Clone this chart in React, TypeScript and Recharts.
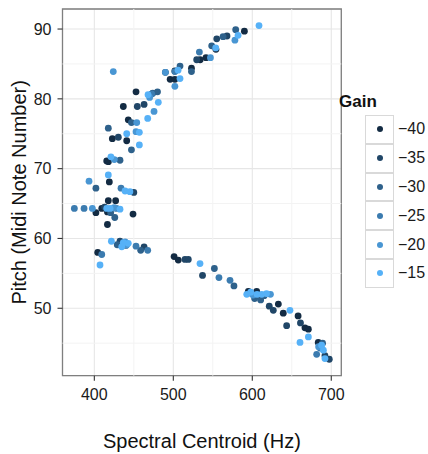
import { ScatterChart, Scatter, XAxis, YAxis, CartesianGrid, ReferenceLine, ReferenceArea } from "recharts";

// gain levels and their fill colours (ggplot default blue gradient)
const gainLevels = [-40, -35, -30, -25, -20, -15];
const gainColors = ["#132B43", "#204667", "#2E618B", "#3B7BAF", "#4996D3", "#56B1F7"];

// [spectral centroid Hz, pitch midi], grouped by gain
const gainM40 = [
  [590, 89.7], [554, 87.1], [541.4, 85.9], [523, 84.4], [534, 85.6], [496, 82.8], [502, 82.8], [502, 84],
  [452.8, 81], [436.7, 78.9], [443, 77], [422.8, 74.3], [441, 74], [415.7, 71.1], [417.8, 71], [419, 68.1],
  [417.7, 65.4], [427, 65.4], [409.4, 64.3], [402, 63.7], [416.6, 63.8], [449, 63.5], [416.6, 62], [404.3, 58],
  [501, 57.4], [506.3, 56.9], [597, 52.2], [605.6, 52.4], [595, 52.4], [633, 50.6], [639.2, 49.3], [658, 48.9],
  [666.7, 47.2], [671, 47], [683.5, 45.1],
];
const gainM35 = [
  [568, 89], [555, 88.6], [529.6, 85.6], [490, 83.8], [454.4, 78.9], [463, 79.2], [430.4, 74.5], [450, 66.6],
  [413, 64.5], [432.5, 59.6], [463, 58.8], [514.8, 57], [519, 57], [537, 54.7], [621.5, 50.3], [626.6, 49.7],
  [643.5, 47.5], [661, 47.9], [692, 43.2], [697.5, 42.7],
];
const gainM30 = [
  [579, 89.9], [563, 88.9], [548.6, 87.6], [523, 83.9], [508.5, 84.7], [480, 81], [474, 80.8], [447, 76.6],
  [417.7, 75.8], [447, 72.7], [432.5, 71.2], [402, 67.2], [420.7, 63.7], [425.9, 63], [429, 59.1], [440, 59],
  [458.7, 58.3], [552, 55.7], [576.8, 53.2], [603, 51.4], [610.6, 51.2], [615, 51.8], [689, 45],
];
const gainM25 = [
  [533, 86.7], [502, 83.9], [472.6, 80.7], [433.8, 67.2], [374.7, 64.3], [387, 64.3], [428, 64.3], [452.8, 58.9],
  [467.6, 58.3], [409.4, 57.7], [557.8, 54.4], [571.8, 54], [685.7, 44.3], [681.5, 43.4],
];
const gainM20 = [
  [578, 88.4], [547, 85.9], [490, 83.8], [502, 81.8], [424, 83.9], [470, 80.2], [475.6, 78.2], [453.7, 76.6],
  [452.8, 75.3], [425.3, 71.3], [393.3, 68.2], [397.5, 64.3], [425, 64.4], [441, 59.1], [439, 59.5], [601, 51.9],
  [623, 52], [684, 44.5],
];
const gainM15 = [
  [608.5, 90.5], [582, 89.1], [553.7, 87.3], [506, 84.1], [508.5, 82.9], [481, 79.5], [468, 80.6], [467.6, 77.2],
  [441, 75], [457, 75.2], [457, 73.4], [421, 71.7], [417.7, 69.1], [438.9, 66.8], [445, 66.7], [415.7, 64.3],
  [420, 64.3], [432.5, 64.2], [421.6, 59.6], [436.7, 59.4], [443, 59.3], [434.7, 58.8], [407.2, 56.2], [533.8, 56.4],
  [593, 52], [598, 52.3], [606, 52], [612, 52], [618, 52.1], [647.7, 49.7], [671, 45.9], [660.4, 45.1],
  [687.8, 44.7], [690, 44], [692, 42.8],
];
const seriesPoints = [gainM40, gainM35, gainM30, gainM25, gainM20, gainM15];

const xTicks = [400, 500, 600, 700];
const yTicks = [50, 60, 70, 80, 90];
const xMinor = [450, 550, 650];
const yMinor = [45, 55, 65, 75, 85];
const xDomain = [359.7, 712.7];
const yDomain = [40.34, 92.87];

const font = "'Liberation Sans', Arial, Helvetica, sans-serif";

const dot = (props: any) => <circle cx={props.cx} cy={props.cy} r={3.4} fill={props.fill} />;

export default function App() {
  return (
    <div style={{ position: "absolute", left: 0, top: 0, width: 428, height: 454, fontFamily: font, background: "#fff" }}>
      <ScatterChart width={428} height={454} margin={{ top: 9, right: 86.7, bottom: 0, left: 0 }}>
        {xMinor.map((v) => (
          <ReferenceLine key={`xm${v}`} x={v} stroke="#f3f3f3" strokeWidth={1} />
        ))}
        {yMinor.map((v) => (
          <ReferenceLine key={`ym${v}`} y={v} stroke="#f3f3f3" strokeWidth={1} />
        ))}
        <CartesianGrid stroke="#e6e6e6" strokeWidth={1.1} />
        <XAxis
          type="number"
          dataKey="x"
          domain={xDomain}
          allowDataOverflow
          ticks={xTicks}
          height={78.3}
          axisLine={false}
          tickLine={{ stroke: "#333", strokeWidth: 1.1 }}
          tickSize={5}
          tickMargin={8}
          tick={{ fill: "#1a1a1a", fontSize: 16, fontFamily: font }}
          label={(p: any) => (
            <text x={p.viewBox.x + p.viewBox.width / 2} y={447.5} textAnchor="middle" fontSize={20} fill="#111" fontFamily={font}>
              Spectral Centroid (Hz)
            </text>
          )}
        />
        <YAxis
          type="number"
          dataKey="y"
          domain={yDomain}
          allowDataOverflow
          ticks={yTicks}
          width={62.5}
          axisLine={false}
          tickLine={{ stroke: "#333", strokeWidth: 1.1 }}
          tickSize={5}
          tickMargin={6}
          tick={{ fill: "#1a1a1a", fontSize: 16, fontFamily: font }}
          label={(p: any) => {
            const cy = p.viewBox.y + p.viewBox.height / 2;
            return (
              <text x={26} y={cy} transform={`rotate(-90 26 ${cy})`} textAnchor="middle" fontSize={20} fill="#111" fontFamily={font}>
                Pitch (Midi Note Number)
              </text>
            );
          }}
        />
        {seriesPoints.map((pts, i) => (
          <Scatter
            key={gainLevels[i]}
            name={String(gainLevels[i])}
            data={pts.map(([x, y]) => ({ x, y }))}
            fill={gainColors[i]}
            shape={dot}
            isAnimationActive={false}
          />
        ))}
        <ReferenceArea x1={xDomain[0]} x2={xDomain[1]} y1={yDomain[0]} y2={yDomain[1]} fill="none" stroke="#7f7f7f" strokeWidth={1.3} />
      </ScatterChart>
      <div style={{ position: "absolute", left: 339, top: 92, fontSize: 17, fontWeight: "bold", color: "#111" }}>Gain</div>
      <div style={{ position: "absolute", left: 365, top: 115 }}>
        {gainLevels.map((g, i) => (
          <div key={g} style={{ display: "flex", alignItems: "center", height: 28.8 }}>
            <div
              style={{
                width: 27,
                height: 26.8,
                border: "1px solid #d9d9d9",
                display: "flex",
                alignItems: "center",
                justifyContent: "center",
              }}
            >
              <div style={{ width: 6, height: 6, borderRadius: 3, background: gainColors[i] }} />
            </div>
            <span style={{ marginLeft: 4, fontSize: 16, color: "#1a1a1a" }}>{`\u2212${Math.abs(g)}`}</span>
          </div>
        ))}
      </div>
    </div>
  );
}
